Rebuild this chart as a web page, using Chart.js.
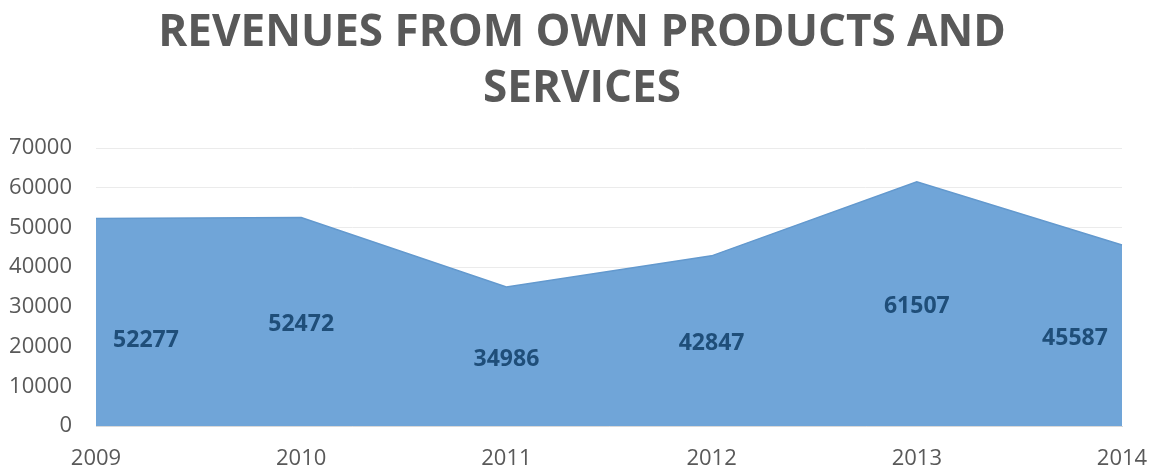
<!DOCTYPE html>
<html>
<head>
<meta charset="utf-8">
<script src="https://cdn.jsdelivr.net/npm/chart.js@4"></script>
<style>
  html, body { margin: 0; padding: 0; background: #fff; }
  #wrap { width: 1154px; height: 470px; }
</style>
</head>
<body>
<div id="wrap"><canvas id="chart" width="1154" height="470"></canvas></div>
<script>
// ---- data ----
const years    = ["2009", "2010", "2011", "2012", "2013", "2014"];
const revenues = [52277, 52472, 34986, 42847, 61507, 45587];
const titleLines = ["REVENUES FROM OWN PRODUCTS AND", "SERVICES"];

const GREY = "#595959";
const FONT = "'Open Sans', 'Liberation Sans', sans-serif";

// title drawn by hand so it stays centred on the whole canvas
const bigTitle = {
  id: "bigTitle",
  afterDraw(chart) {
    const ctx = chart.ctx;
    ctx.save();
    ctx.font = "bold 44px " + FONT;
    ctx.fillStyle = GREY;
    ctx.textAlign = "center";
    ctx.textBaseline = "middle";
    titleLines.forEach((t, i) => ctx.fillText(t, 582, 33 + i * 56));
    ctx.restore();
  }
};

// value labels, drawn half way up the area like the original
const areaLabels = {
  id: "areaLabels",
  afterDatasetsDraw(chart) {
    const { ctx, scales: { y } } = chart;
    const pts = chart.getDatasetMeta(0).data;
    ctx.save();
    ctx.font = "bold 23px " + FONT;
    ctx.fillStyle = "#1F4E79";
    ctx.textAlign = "center";
    ctx.textBaseline = "middle";
    pts.forEach((p, i) => {
      const v = revenues[i];
      let x = p.x;
      if (i === 0) x += 50;
      if (i === pts.length - 1) x -= 47;
      const yy = i === 0 ? y.getPixelForValue(v * 0.41) : y.getPixelForValue(v / 2) + 3;
      ctx.fillText(String(v), x, yy);
    });
    ctx.restore();
  }
};

new Chart(document.getElementById("chart"), {
  type: "line",
  data: {
    labels: years,
    datasets: [{
      data: revenues,
      fill: "origin",
      backgroundColor: "#70A5D8",
      borderColor: "#6399CE",
      borderWidth: 1.5,
      pointRadius: 0,
      tension: 0
    }]
  },
  options: {
    responsive: false,
    animation: false,
    layout: { padding: { left: 0, right: 0, top: 148, bottom: 0 } },
    plugins: {
      legend: { display: false },
      tooltip: { enabled: false },
      title: { display: false }
    },
    scales: {
      x: {
        offset: false,
        grid: { display: false },
        border: { display: true, color: "#D9D9D9" },
        ticks: { color: GREY, font: { family: FONT, size: 22 }, padding: 12, maxRotation: 0 },
        afterFit: (s) => { s.height = 44; s.paddingRight = 32; }
      },
      y: {
        min: 0,
        max: 70000,
        grid: { color: "#EBEBEB", drawTicks: false },
        border: { display: false },
        ticks: {
          stepSize: 10000, color: GREY, font: { family: FONT, size: 22 }, padding: 24,
          callback: (v) => String(v)
        },
        afterFit: (s) => { s.width = 96; }
      }
    }
  },
  plugins: [areaLabels, bigTitle]
});
</script>
</body>
</html>
